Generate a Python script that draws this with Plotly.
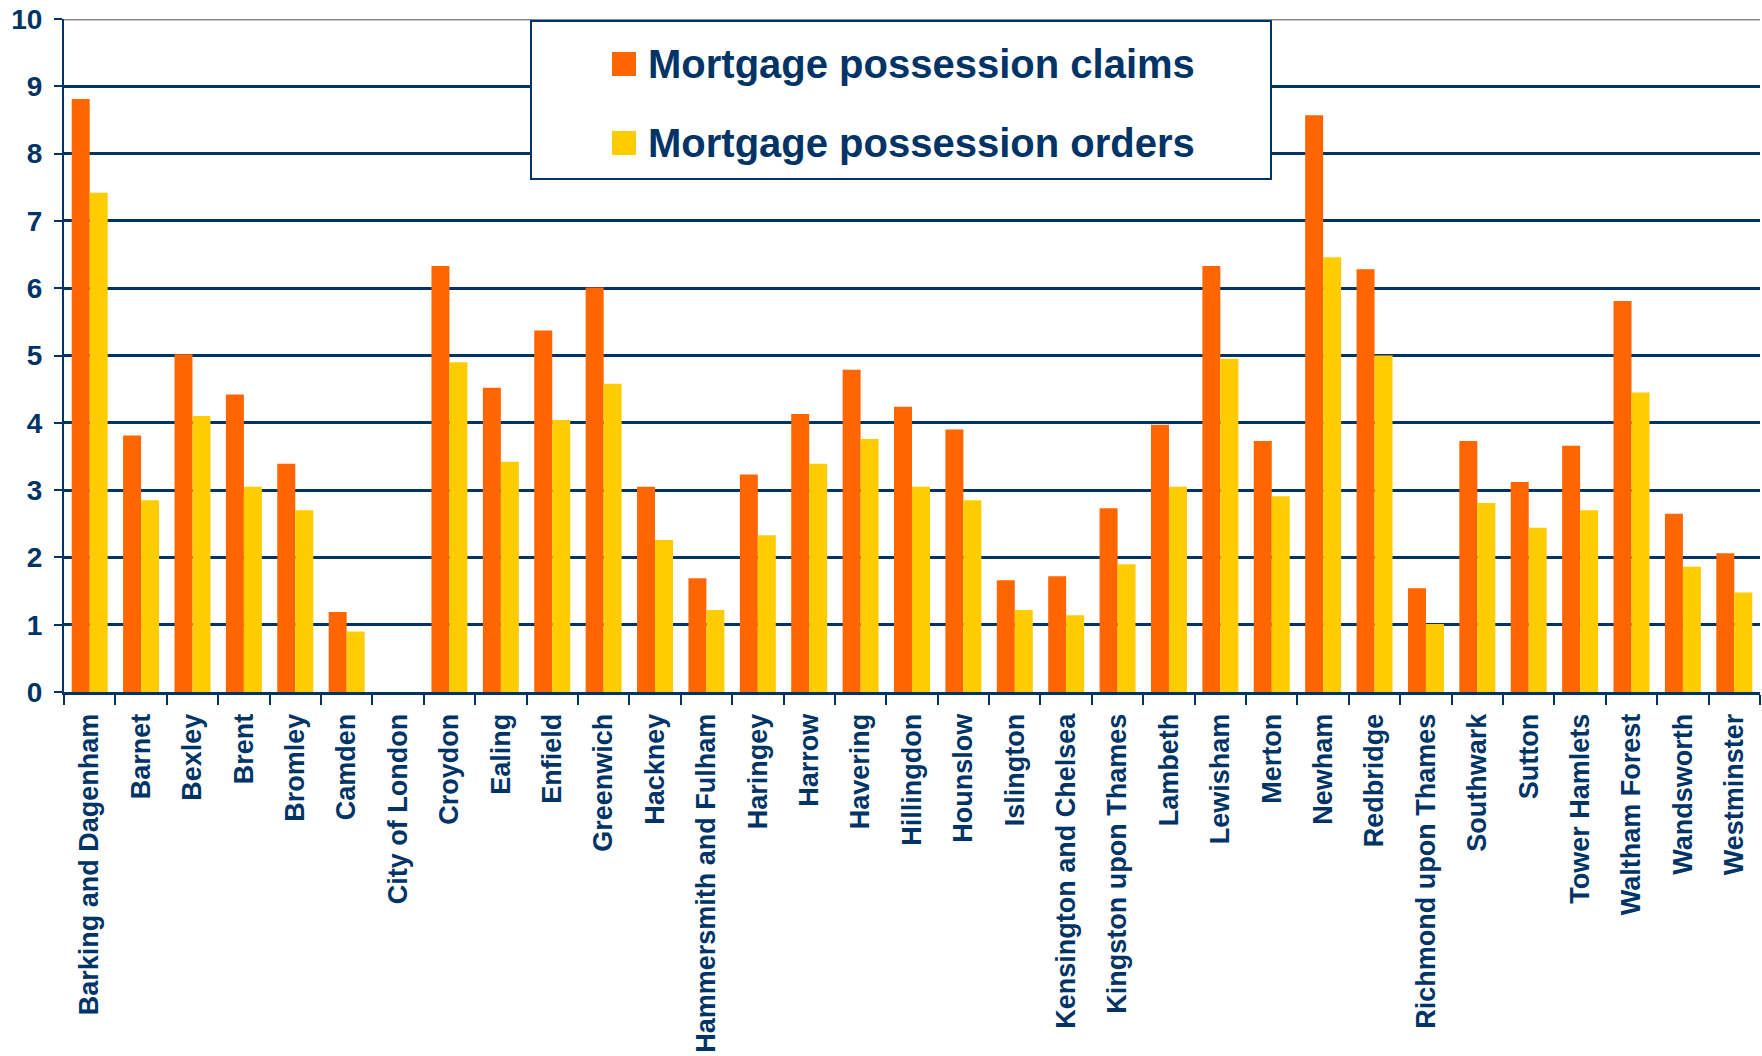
import plotly.graph_objects as go

# London boroughs
boroughs = [
    "Barking and Dagenham", "Barnet", "Bexley", "Brent", "Bromley", "Camden",
    "City of London", "Croydon", "Ealing", "Enfield", "Greenwich", "Hackney",
    "Hammersmith and Fulham", "Haringey", "Harrow", "Havering", "Hillingdon",
    "Hounslow", "Islington", "Kensington and Chelsea", "Kingston upon Thames",
    "Lambeth", "Lewisham", "Merton", "Newham", "Redbridge",
    "Richmond upon Thames", "Southwark", "Sutton", "Tower Hamlets",
    "Waltham Forest", "Wandsworth", "Westminster",
]

possession_claims = [
    8.81, 3.81, 5.02, 4.42, 3.39, 1.19,
    0.0, 6.33, 4.52, 5.37, 6.01, 3.05,
    1.69, 3.23, 4.13, 4.79, 4.24,
    3.90, 1.66, 1.72, 2.73,
    3.97, 6.33, 3.73, 8.57, 6.28,
    1.54, 3.73, 3.12, 3.66,
    5.81, 2.65, 2.06,
]

possession_orders = [
    7.42, 2.85, 4.10, 3.05, 2.70, 0.90,
    0.0, 4.90, 3.42, 4.04, 4.58, 2.26,
    1.22, 2.33, 3.39, 3.76, 3.05,
    2.85, 1.22, 1.14, 1.90,
    3.05, 4.95, 2.91, 6.46, 5.00,
    1.01, 2.81, 2.44, 2.70,
    4.45, 1.86, 1.48,
]

series_names = ["Mortgage possession claims", "Mortgage possession orders"]
series_colors = ["#FF6600", "#FFCC00"]

NAVY = "#003366"
FONT = "Liberation Sans, Arial, Helvetica, sans-serif"

W, H = 1762, 1056
ML, MR, MT, MB = 64, 2, 19, 364
PW, PH = W - ML - MR, H - MT - MB


def px_x(x):
    return (x - ML) / PW


def px_y(y):
    return 1 - (y - MT) / PH


fig = go.Figure()
for name, vals, col in zip(series_names, [possession_claims, possession_orders], series_colors):
    fig.add_trace(go.Bar(
        x=boroughs, y=vals, name=name,
        marker=dict(color=col, line=dict(width=0)),
        showlegend=False,
    ))

shapes = [
    # grey top border at 10
    dict(type="line", xref="paper", yref="y", x0=0, x1=1, y0=10, y1=10,
         line=dict(color="#8a8a8a", width=3), layer="above"),
    # legend frame
    dict(type="rect", xref="paper", yref="paper",
         x0=px_x(531), x1=px_x(1271), y0=px_y(179), y1=px_y(21),
         line=dict(color=NAVY, width=2), fillcolor="white", layer="above"),
]
annotations = []
for i, (name, col) in enumerate(zip(series_names, series_colors)):
    cy = 64 + i * 79
    shapes.append(dict(
        type="rect", xref="paper", yref="paper",
        x0=px_x(612), x1=px_x(636), y0=px_y(cy + 12), y1=px_y(cy - 12),
        line=dict(width=0), fillcolor=col, layer="above",
    ))
    annotations.append(dict(
        xref="paper", yref="paper", x=px_x(646), y=px_y(cy),
        xanchor="left", yanchor="middle", showarrow=False, text=name,
        font=dict(family=FONT, size=40, color=NAVY, weight="bold"),
    ))

fig.update_layout(
    width=W, height=H, autosize=False,
    margin=dict(l=ML, r=MR, t=MT, b=MB, pad=0),
    paper_bgcolor="white", plot_bgcolor="white",
    barmode="group", bargap=0.3, bargroupgap=0.0,
    shapes=shapes, annotations=annotations,
    font=dict(family=FONT, color=NAVY),
)

fig.update_yaxes(
    range=[0, 10], dtick=1, tick0=0,
    showgrid=True, gridcolor=NAVY, gridwidth=2.5,
    zeroline=False,
    showline=True, linecolor=NAVY, linewidth=2,
    ticks="outside", ticklen=8, tickcolor=NAVY, tickwidth=2,
    ticklabelstandoff=6,
    tickfont=dict(family=FONT, size=28, color=NAVY, weight="bold"),
)

fig.update_xaxes(
    type="category", range=[-0.5, len(boroughs) - 0.5],
    showgrid=False, zeroline=False,
    showline=True, linecolor=NAVY, linewidth=3,
    ticks="outside", tickson="boundaries", ticklen=10, tickcolor=NAVY, tickwidth=2,
    tickangle=-90, ticklabelstandoff=8,
    tickfont=dict(family=FONT, size=27, color=NAVY, weight="bold"),
)

fig.write_html("out.html")
